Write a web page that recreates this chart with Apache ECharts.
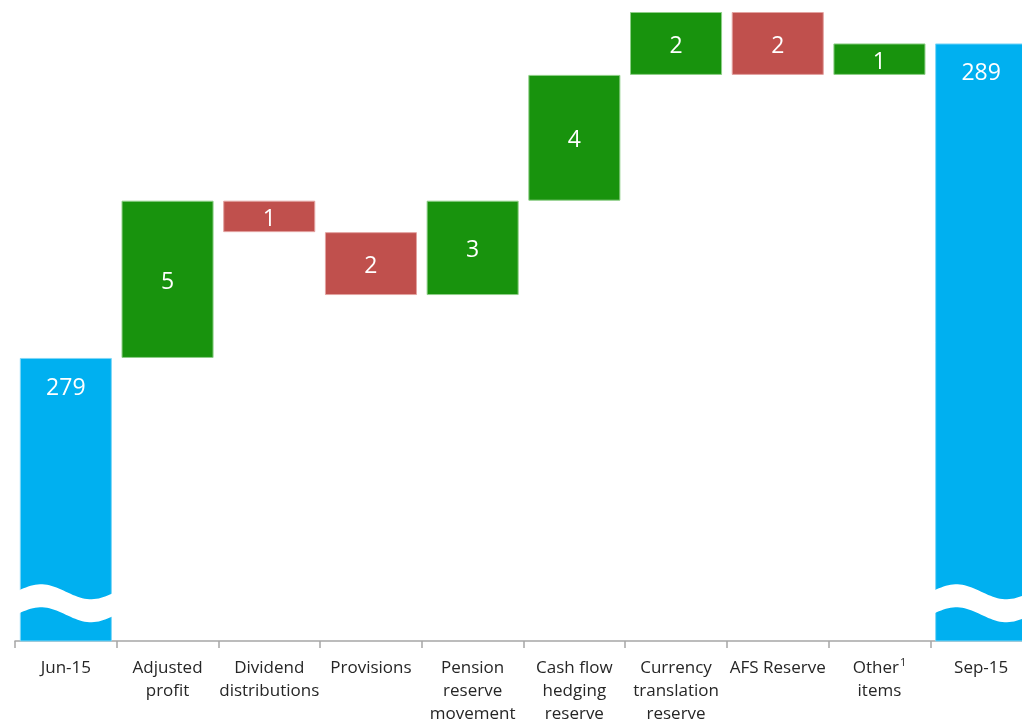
<!DOCTYPE html>
<html>
<head>
<meta charset="utf-8">
<script src="https://cdn.jsdelivr.net/npm/echarts@6/dist/echarts.min.js"></script>
<style>
  html, body { margin: 0; padding: 0; background: #fff; }
  #chart { width: 1022px; height: 723px; }
</style>
</head>
<body>
<div id="chart"></div>
<script>
// Capital bridge: opening and closing totals with the movements in between
const categories = ['Jun-15', 'Adjusted\nprofit', 'Dividend\ndistributions', 'Provisions',
  'Pension\nreserve\nmovement', 'Cash flow\nhedging\nreserve', 'Currency\ntranslation\nreserve',
  'AFS Reserve', 'Other¹\nitems', 'Sep-15'];
const openingTotal = 279;
const closingTotal = 289;
// movements for categories 1..8
const movements = [5, -1, -2, 3, 4, 2, -2, 1];
const axisMin = 270;
const axisMax = 290;
// value at which the break marker is drawn on the total columns
const breakValue = 271.2;

const BLUE = '#00B0F0', GREEN = '#18930D', RED = '#C0504D';

// build stacked series: invisible base + rising / falling parts
const base = [0], up = ['-'], down = ['-'], total = [openingTotal];
let running = openingTotal;
movements.forEach(m => {
  if (m >= 0) {
    base.push(running); up.push(m); down.push('-');
  } else {
    base.push(running + m); up.push('-'); down.push(-m);
  }
  total.push('-');
  running += m;
});
base.push(0); up.push('-'); down.push('-'); total.push(closingTotal);

const FONT = 'Open Sans';
const barLabel = { show: true, position: 'inside', offset: [0, 3], color: '#fff', fontSize: 23, fontFamily: FONT };

const chart = echarts.init(document.getElementById('chart'));
chart.setOption({
  animation: false,
  grid: { left: 15, width: 1017, top: 12, bottom: 82, containLabel: false, outerBoundsMode: 'none' },
  xAxis: {
    type: 'category',
    data: categories,
    axisLine: { lineStyle: { color: '#A6A6A6', width: 1.5 } },
    axisTick: { show: true, length: 7, interval: 0, lineStyle: { color: '#A6A6A6', width: 1.5 } },
    axisLabel: {
      interval: 0, margin: 16, color: '#262626', fontSize: 17, lineHeight: 23, fontFamily: FONT,
      formatter: v => {
        if (v.indexOf('¹') >= 0) {
          const parts = v.split('¹');
          return '{t|' + parts[0] + '}{s|1}{t|' + parts[1].split('\n')[0] + '}\n{t|' + parts[1].split('\n')[1] + '}';
        }
        return v;
      },
      rich: {
        t: { fontSize: 17, lineHeight: 23, color: '#262626', fontFamily: FONT },
        s: { fontSize: 11, lineHeight: 23, color: '#262626', fontFamily: FONT, verticalAlign: 'top', padding: [0, 0, 8, 1] }
      }
    }
  },
  yAxis: {
    type: 'value', min: axisMin, max: axisMax,
    show: false, splitLine: { show: false }
  },
  series: [
    {
      name: 'base', type: 'bar', stack: 'w', data: base, barWidth: '90.5%',
      itemStyle: { color: 'transparent' }, silent: true
    },
    {
      name: 'total', type: 'bar', stack: 'w', data: total,
      itemStyle: { color: BLUE, borderColor: '#7fd7f7', borderWidth: 1 },
      label: Object.assign({}, barLabel, { position: 'insideTop', distance: 19, offset: [0, 0] })
    },
    {
      name: 'increase', type: 'bar', stack: 'w', data: up,
      itemStyle: { color: GREEN, borderColor: '#8fcf88', borderWidth: 1 },
      label: barLabel
    },
    {
      name: 'decrease', type: 'bar', stack: 'w', data: down,
      itemStyle: { color: RED, borderColor: '#e3a3a1', borderWidth: 1 },
      label: barLabel
    },
    {
      // wavy break marker across the total columns
      name: 'break', type: 'custom', silent: true, z: 10,
      data: [[0, breakValue], [categories.length - 1, breakValue]],
      renderItem: (params, api) => {
        const c = api.coord([api.value(0), api.value(1)]);
        const w = api.size([1, 0])[0] * 0.905;
        const x0 = c[0] - w / 2;
        const period = w * 1.087, amp = 7.5, thick = 23;
        const wave = x => -amp * Math.cos(2 * Math.PI * (x - x0 - w * 0.23) / period);
        const pts = [];
        const n = 40;
        for (let i = 0; i <= n; i++) {
          const x = x0 - 1 + (w + 2) * i / n;
          pts.push([x, c[1] - thick / 2 + wave(x)]);
        }
        for (let i = n; i >= 0; i--) {
          const x = x0 - 1 + (w + 2) * i / n;
          pts.push([x, c[1] + thick / 2 + wave(x)]);
        }
        return { type: 'polygon', shape: { points: pts }, style: { fill: '#fff' } };
      }
    }
  ]
});
</script>
</body>
</html>
